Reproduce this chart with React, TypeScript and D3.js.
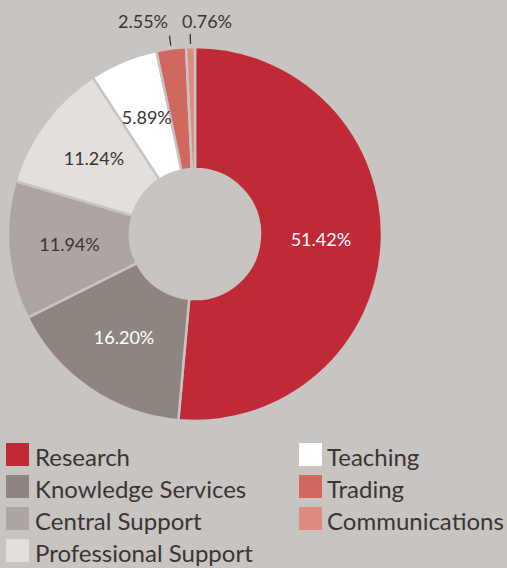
import React from "react";
import * as d3 from "d3";

const categories = ["Research", "Knowledge Services", "Central Support", "Professional Support", "Teaching", "Trading", "Communications"];
const values = [51.42, 16.20, 11.94, 11.24, 5.89, 2.55, 0.76];
const labels = ["51.42%", "16.20%", "11.94%", "11.24%", "5.89%", "2.55%", "0.76%"];
const colors = ["#c02a37", "#8f8580", "#ada5a1", "#e3dfdc", "#ffffff", "#d0685e", "#de8c80"];
const labelColors = ["#ffffff", "#ffffff", "#3a3535", "#3a3535", "#3a3535", "#3a3535", "#3a3535"];
const legendLeft = ["Research", "Knowledge Services", "Central Support", "Professional Support"];
const legendRight = ["Teaching", "Trading", "Communications"];

const W = 507, H = 568;
const BG = "#c8c4c1";
const cx = 195, cy = 234, R = 187, r0 = 65;

export default function App() {
  const data = categories.map((c, i) => ({ c, v: values[i], label: labels[i], color: colors[i], lc: labelColors[i] }));
  const pie = d3.pie<any>().value((d) => d.v).sort(null);
  const arcs = pie(data);
  const arc = d3.arc<any>().innerRadius(r0).outerRadius(R);
  const labelArc = d3.arc<any>().innerRadius(126).outerRadius(126);
  const font = "Lato, 'Open Sans', sans-serif";
  const textCol = "#3a3535";
  return (
    <svg width={W} height={H} style={{ position: "absolute", left: 0, top: 0, background: BG }}>
      <rect x={0} y={0} width={W} height={H} fill={BG} />
      <g transform={`translate(${cx},${cy})`}>
        {arcs.map((a, i) => (
          <path key={i} d={arc(a) || ""} fill={a.data.color} stroke={BG} strokeWidth={2.5} strokeLinejoin="miter" />
        ))}
        {arcs.map((a, i) => {
          const mid = (a.startAngle + a.endAngle) / 2;
          if (a.data.v < 4) {
            const x1 = Math.sin(mid) * (R + 3), y1 = -Math.cos(mid) * (R + 3);
            const x2 = Math.sin(mid) * (R + 13), y2 = -Math.cos(mid) * (R + 13);
            const tx = i === 5 ? -52 : 12;
            return (
              <g key={i}>
                <line x1={x1} y1={y1} x2={x2} y2={y2} stroke="#3a3535" strokeWidth={1.3} />
                <text x={tx} y={28 - cy} textAnchor="middle" fontFamily={font} fontSize={18} fill={textCol}>{a.data.label}</text>
              </g>
            );
          }
          const [lx, ly] = labelArc.centroid(a);
          return (
            <text key={i} x={lx} y={ly} dy="0.35em" textAnchor="middle" fontFamily={font} fontSize={18} fill={a.data.lc}>{a.data.label}</text>
          );
        })}
      </g>
      {legendLeft.map((c, i) => (
        <g key={c} transform={`translate(6,${443 + i * 32})`}>
          <rect width={23} height={23} fill={colors[categories.indexOf(c)]} />
          <text x={29} y={23} fontFamily={font} fontSize={24} fill={textCol}>{c}</text>
        </g>
      ))}
      {legendRight.map((c, i) => (
        <g key={c} transform={`translate(299,${443 + i * 32})`}>
          <rect width={23} height={23} fill={colors[categories.indexOf(c)]} />
          <text x={28} y={23} fontFamily={font} fontSize={24} fill={textCol}>{c}</text>
        </g>
      ))}
    </svg>
  );
}
